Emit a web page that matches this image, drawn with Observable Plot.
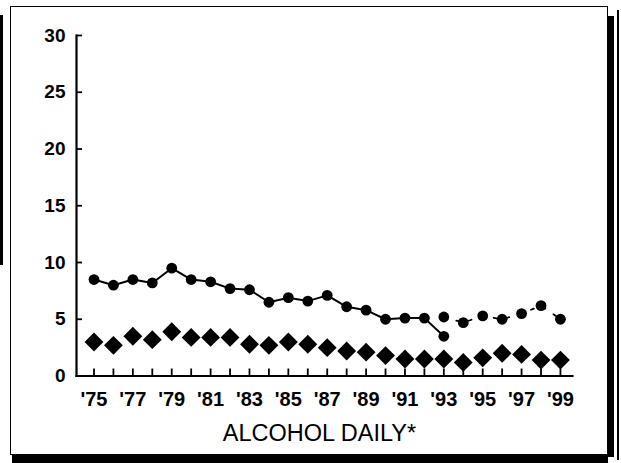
<!DOCTYPE html>
<html>
<head>
<meta charset="utf-8">
<script src="https://cdn.jsdelivr.net/npm/d3@7"></script>
<script src="https://cdn.jsdelivr.net/npm/@observablehq/plot@0.6"></script>
<style>
  body { margin: 0; background: #fff; }
  #wrap { position: relative; width: 621px; height: 463px; overflow: hidden; background: #fff;
          font-family: "Liberation Sans", Arial, Helvetica, sans-serif; }
  #wrap svg { position: absolute; left: 0; top: 0; }
  .deco { position: absolute; background: #000; }
  .box { position: absolute; border: 1.6px solid #000; box-sizing: border-box; }
</style>
</head>
<body>
<div id="wrap">
  <div class="box" style="left:10px; top:6px; width:598px; height:449px;"></div>
  <div class="deco" style="left:12px; top:455px; width:596px; height:8px;"></div>
  <div class="deco" style="left:607px; top:16px; width:7px; height:441px;"></div>
  <div class="deco" style="left:617px; top:10px; width:1.5px; height:450px;"></div>
  <div class="deco" style="left:0px; top:15px; width:2.5px; height:250px;"></div>
</div>
<script>
// ---- data ----
const years = [1975, 1976, 1977, 1978, 1979, 1980, 1981, 1982, 1983, 1984, 1985, 1986,
               1987, 1988, 1989, 1990, 1991, 1992, 1993, 1994, 1995, 1996, 1997, 1998, 1999];
// circles, original questionnaire (1975-1993)
const circleOldYears = [1975, 1976, 1977, 1978, 1979, 1980, 1981, 1982, 1983, 1984, 1985, 1986,
                        1987, 1988, 1989, 1990, 1991, 1992, 1993];
const circleOldValues = [8.5, 8.0, 8.5, 8.2, 9.5, 8.5, 8.3, 7.7, 7.6, 6.5, 6.9, 6.6,
                         7.1, 6.1, 5.8, 5.0, 5.1, 5.1, 3.5];
// circles, revised questionnaire (1993-1999)
const circleNewYears = [1993, 1994, 1995, 1996, 1997, 1998, 1999];
const circleNewValues = [5.2, 4.7, 5.3, 5.0, 5.5, 6.2, 5.0];
// diamonds (1975-1999)
const diamondValues = [3.0, 2.7, 3.5, 3.2, 3.9, 3.4, 3.4, 3.4, 2.8, 2.7, 3.0, 2.8,
                       2.5, 2.2, 2.1, 1.8, 1.5, 1.5, 1.5, 1.2, 1.6, 2.0, 1.9, 1.4, 1.4];
const yTickValues = [0, 5, 10, 15, 20, 25, 30];
const xLabelYears = [1975, 1977, 1979, 1981, 1983, 1985, 1987, 1989, 1991, 1993, 1995, 1997, 1999];
const xTickLabels = ["'75", "'77", "'79", "'81", "'83", "'85", "'87", "'89", "'91", "'93", "'95", "'97", "'99"];
const chartTitle = "ALCOHOL DAILY*";

// ---- tables ----
const circlesOld = circleOldYears.map((y, i) => ({year: y, value: circleOldValues[i]}));
const circlesNew = circleNewYears.map((y, i) => ({year: y, value: circleNewValues[i]}));
const diamonds = years.map((y, i) => ({year: y, value: diamondValues[i]}));

// ---- layout ----
const W = 621, H = 463;
const mL = 76, mR = 49, mT = 35, mB = 87.5;
const frameW = W - mL - mR, frameH = H - mT - mB;
const font = "'Liberation Sans', Arial, Helvetica, sans-serif";

const chart = Plot.plot({
  width: W,
  height: H,
  marginLeft: mL,
  marginRight: mR,
  marginTop: mT,
  marginBottom: mB,
  style: {fontFamily: font, background: "transparent", color: "#000"},
  x: {domain: [1974.1, 1999.62], axis: null},
  y: {domain: [0, 30], axis: null},
  marks: [
    Plot.frame({anchor: "left", strokeWidth: 2.2, stroke: "#000"}),
    Plot.frame({anchor: "bottom", strokeWidth: 2.2, stroke: "#000"}),
    Plot.tickY(yTickValues, {y: d => d, stroke: "#000", strokeWidth: 1.8, insetRight: frameW - 6}),
    Plot.tickX(years, {x: d => d, stroke: "#000", strokeWidth: 1.8, insetTop: frameH - 7}),
    Plot.axisY({ticks: yTickValues, tickSize: 0, tickPadding: 11, fontSize: 19, fontWeight: "bold", label: null}),
    Plot.axisX({ticks: xLabelYears, tickSize: 0, tickPadding: 16, fontSize: 20, fontWeight: "bold", label: null,
                tickFormat: d => xTickLabels[xLabelYears.indexOf(d)]}),
    Plot.line(circlesOld, {x: "year", y: "value", stroke: "#000", strokeWidth: 2}),
    Plot.line(circlesNew, {x: "year", y: "value", stroke: "#000", strokeWidth: 1.8, strokeDasharray: "3,10"}),
    Plot.dot(circlesOld, {x: "year", y: "value", r: 5.4, fill: "#000", stroke: "none"}),
    Plot.dot(circlesNew, {x: "year", y: "value", r: 5.4, fill: "#000", stroke: "none"}),
    Plot.dot(diamonds, {x: "year", y: "value", symbol: "diamond2", r: 8.5, fill: "#000", stroke: "none"}),
    Plot.text([chartTitle], {text: d => d, frameAnchor: "bottom", dy: 64.5, dx: -5, lineAnchor: "bottom",
                             fontSize: 23.5, fill: "#000"})
  ]
});
document.getElementById("wrap").prepend(chart);
</script>
</body>
</html>
